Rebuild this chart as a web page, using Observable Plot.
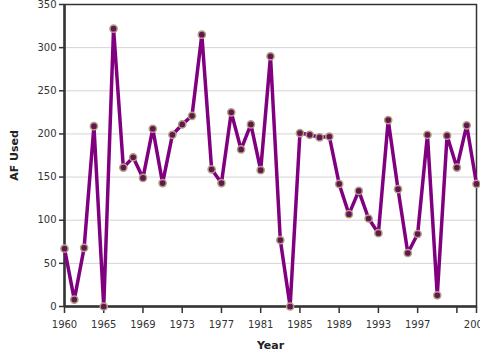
<!DOCTYPE html>
<html>
<head>
<meta charset="utf-8">
<script src="https://cdn.jsdelivr.net/npm/d3@7"></script>
<script src="https://cdn.jsdelivr.net/npm/@observablehq/plot@0.6"></script>
<style>
  html, body { margin: 0; padding: 0; background: #fff; overflow: hidden; }
</style>
</head>
<body>
<div id="chart"></div>
<script>
const years = [1960, 1961, 1963, 1964, 1965, 1966, 1967, 1968, 1969, 1970,
  1971, 1972, 1973, 1974, 1975, 1976, 1977, 1978, 1979, 1980,
  1981, 1982, 1983, 1984, 1985, 1986, 1987, 1988, 1989, 1990,
  1991, 1992, 1993, 1994, 1995, 1996, 1997, 1998, 1999, 2000,
  2001, 2002, 2003];
const afUsed = [67, 8, 68, 209, 0, 322, 161, 173, 149, 206,
  143, 199, 211, 221, 315, 159, 143, 225, 182, 211,
  158, 290, 77, 0, 201, 199, 196, 197, 142, 107,
  134, 102, 85, 216, 136, 62, 84, 199, 13, 198,
  161, 210, 142];
const xTicks = [1960, 1965, 1969, 1973, 1977, 1981, 1985, 1989, 1993, 1997, 2001, 2003];
const xTickLabels = ["1960", "1965", "1969", "1973", "1977", "1981", "1985", "1989", "1993", "1997", "", "2003"];
const yTicks = [0, 50, 100, 150, 200, 250, 300, 350];
const xTitle = "Year";
const yTitle = "AF Used";

const data = years.map((y, i) => ({year: y, value: afUsed[i]}));

const chart = Plot.plot({
  width: 480,
  height: 360,
  marginLeft: 64,
  marginRight: 4,
  marginTop: 4,
  marginBottom: 54,
  style: {fontFamily: "DejaVu Sans", fontSize: "10px", color: "#333", background: "#fff", overflow: "visible"},
  x: {type: "point", domain: years, padding: 0},
  y: {domain: [0, 350]},
  marks: [
    Plot.gridY(yTicks, {stroke: "#d4d4d4", strokeOpacity: 1, strokeWidth: 1}),
    Plot.frame({stroke: "#333", strokeWidth: 1.5}),
    Plot.axisY({ticks: yTicks, tickSize: 5, tickPadding: 3, label: null, stroke: "#333", fill: "#333", strokeWidth: 1.5}),
    Plot.axisX({ticks: xTicks, tickSize: 7, tickPadding: 7, label: null, stroke: "#333", fill: "#333", strokeWidth: 1.5,
      tickFormat: d => xTickLabels[xTicks.indexOf(d)]}),
    Plot.ruleY([0], {stroke: "#333", strokeWidth: 2.5}),
    Plot.ruleX([years[0]], {stroke: "#333", strokeWidth: 2.5}),
    Plot.line(data, {x: "year", y: "value", stroke: "#800080", strokeWidth: 3.5, curve: "linear"}),
    Plot.dot(data, {x: "year", y: "value", r: 3.6, fill: "#62184f", stroke: "#b3a183", strokeWidth: 1.5}),
    Plot.text([yTitle], {frameAnchor: "left", dx: -50, rotate: -90, textAnchor: "middle", fontWeight: "bold", fontSize: 11, fill: "#222", text: d => d, style: "letter-spacing:1px"}),
    Plot.text([xTitle], {frameAnchor: "bottom", dy: 42, fontWeight: "bold", fontSize: 11, fill: "#222", text: d => d})
  ]
});
document.getElementById("chart").appendChild(chart);
</script>
</body>
</html>
